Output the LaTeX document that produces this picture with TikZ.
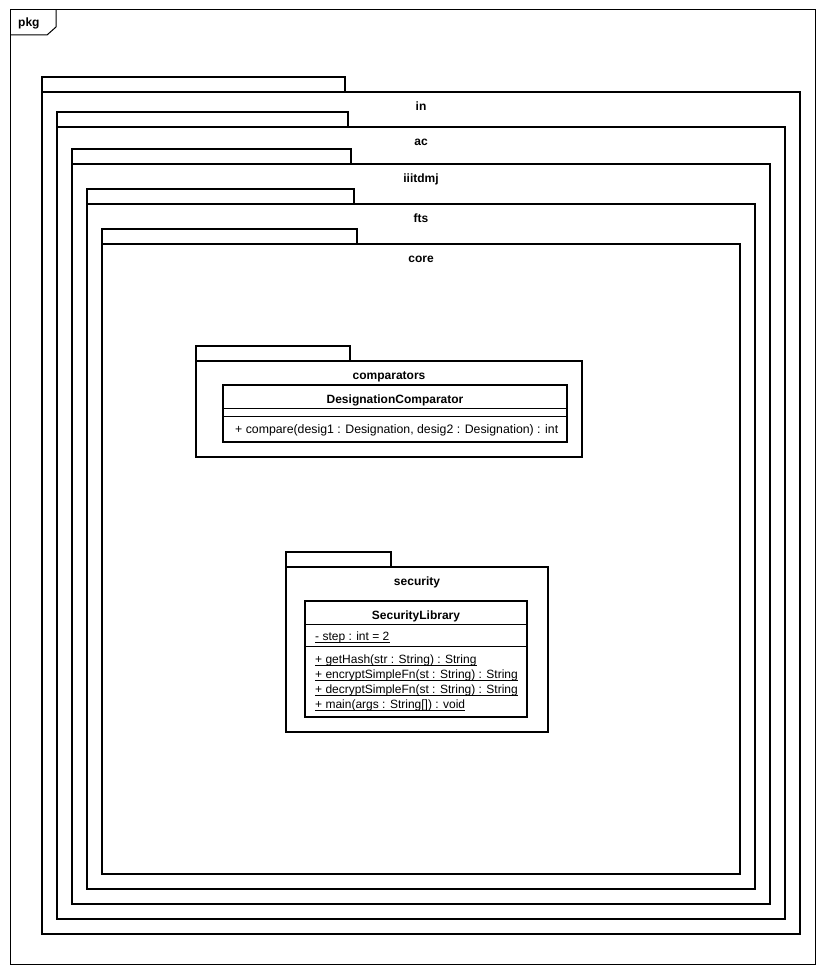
\documentclass[tikz,border=0pt]{standalone}
\usepackage{fontspec}
\setmainfont{Liberation Sans}
\begin{document}
\begin{tikzpicture}[x=1pt,y=-1pt,
  frameline/.style={line width=1pt,draw=black},
  pkgline/.style={line width=2pt,draw=black,line join=miter},
  sepline/.style={line width=1pt,draw=black},
  pkglabel/.style={font=\fontsize{12}{14}\selectfont\bfseries,anchor=base,inner sep=0pt},
  clsname/.style={font=\fontsize{12}{14}\selectfont\bfseries,anchor=base,inner sep=0pt},
  member/.style={font=\fontsize{12.3}{14}\selectfont,anchor=base west,inner sep=0pt},
  smember/.style={font=\fontsize{12}{14}\selectfont,anchor=base west,inner sep=0pt},
  uline/.style={line width=1pt,draw=black}]
\useasboundingbox (0,0) rectangle (825,974);
\fill[white] (0,0) rectangle (825,974);
% outer frame
\draw[frameline] (10,10) rectangle (815,964);
\draw[frameline] (10,35) -- (47,35) -- (56,27) -- (56,10);
\node[font=\fontsize{12}{14}\selectfont\bfseries,anchor=base west,inner sep=0pt] (pkg) at (18,27) {pkg};
% nested packages
\draw[pkgline] (42,92) rectangle (800,934);
\draw[pkgline] (42,92) -- (42,77) -- (345,77) -- (345,92);
\node[pkglabel] (in) at (421,110) {in};
\draw[pkgline] (57,127) rectangle (785,919);
\draw[pkgline] (57,127) -- (57,112) -- (348,112) -- (348,127);
\node[pkglabel] (ac) at (421,145) {ac};
\draw[pkgline] (72,164) rectangle (770,904);
\draw[pkgline] (72,164) -- (72,149) -- (351,149) -- (351,164);
\node[pkglabel] (iiitdmj) at (421,182) {iiitdmj};
\draw[pkgline] (87,204) rectangle (755,889);
\draw[pkgline] (87,204) -- (87,189) -- (354,189) -- (354,204);
\node[pkglabel] (fts) at (421,222) {fts};
\draw[pkgline] (102,244) rectangle (740,874);
\draw[pkgline] (102,244) -- (102,229) -- (357,229) -- (357,244);
\node[pkglabel] (core) at (421,262) {core};
% comparators
\draw[pkgline] (196,361) rectangle (582,457);
\draw[pkgline] (196,361) -- (196,346) -- (350,346) -- (350,361);
\node[pkglabel] (comparators) at (389,379) {comparators};
\draw[pkgline] (223,385) rectangle (567,442);
\draw[sepline] (223,408) -- (567,408);
\draw[sepline] (223,416) -- (567,416);
\node[clsname] (dc) at (395,403) {DesignationComparator};
\node[member] (cmp) at (235,433) {+ compare(desig1 : Designation, desig2 : Designation) : int};
% security
\draw[pkgline] (286,567) rectangle (548,732);
\draw[pkgline] (286,567) -- (286,552) -- (391,552) -- (391,567);
\node[pkglabel] (security) at (417,585) {security};
\draw[pkgline] (305,601) rectangle (527,717);
\draw[sepline] (305,624) -- (527,624);
\draw[sepline] (305,646) -- (527,646);
\node[clsname] (sl) at (416,619) {SecurityLibrary};
\node[smember] (step) at (315,640) {- step : int = 2};
\node[smember] (gh) at (315,663) {+ getHash(str : String) : String};
\node[smember] (enc) at (315,678) {+ encryptSimpleFn(st : String) : String};
\node[smember] (dec) at (315,693) {+ decryptSimpleFn(st : String) : String};
\node[smember] (main) at (315,708) {+ main(args : String[]) : void};
\foreach \n in {step,gh,enc,dec,main}
  \draw[uline] ([yshift=-2pt]\n.base west) -- ([yshift=-2pt]\n.base east);
\end{tikzpicture}
\end{document}
